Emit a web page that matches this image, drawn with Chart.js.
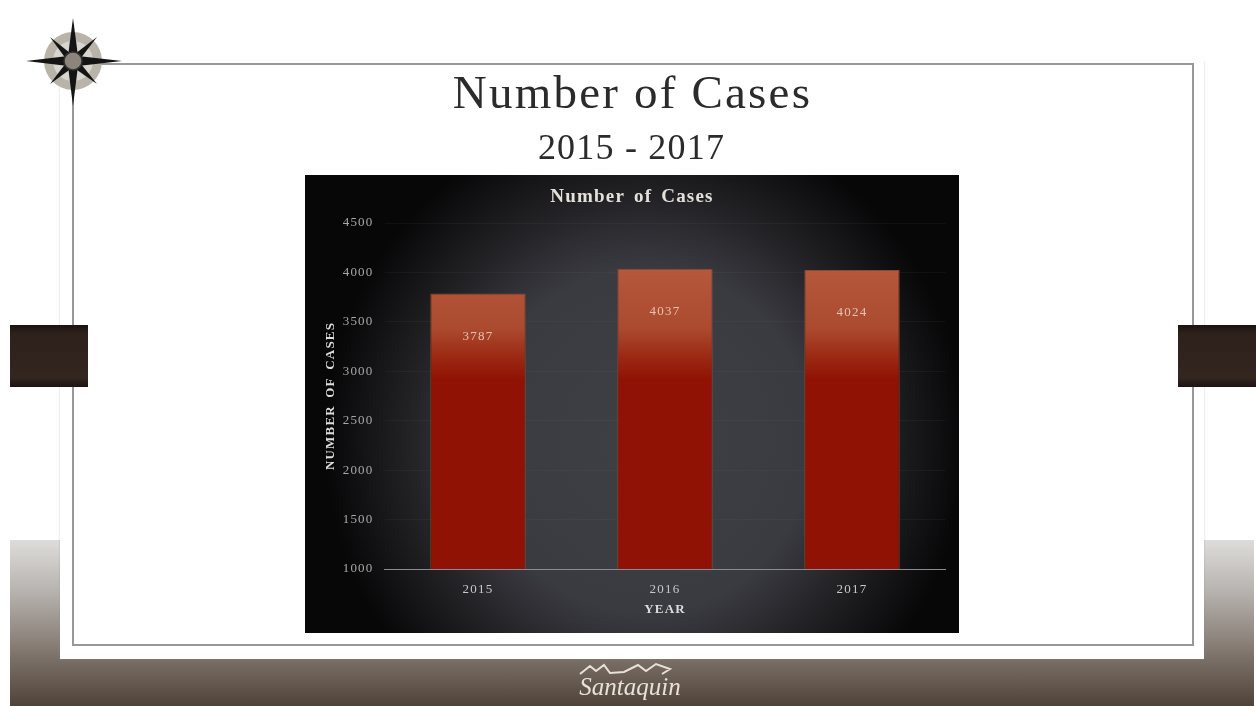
<!DOCTYPE html>
<html><head><meta charset="utf-8">
<style>
html,body{margin:0;padding:0;width:1256px;height:706px;overflow:hidden;background:#fff}
.a{position:absolute}
#band{left:10px;top:540px;width:1244px;height:166px;background:linear-gradient(#dedcda 0%,#b8b4b0 30%,#8a8078 62%,#7a6f66 72%,#4f4239 100%)}
#white{left:60px;top:60px;width:1144px;height:599px;background:#fff;box-shadow:0 1px 2px #8886}
#frame{left:72px;top:63px;width:1122px;height:583px;border:2px solid #97989a;box-sizing:border-box;filter:blur(.4px)}
#lb,#rb{top:325px;width:78px;height:62px;background:linear-gradient(#1a1310 0%,#2e211c 14%,#33261f 85%,#1d1512 100%);filter:blur(.5px)}
#lb{left:10px}#rb{left:1178px}
#t1{left:0;width:1265px;top:65px;text-align:center;font:47px "Liberation Serif",serif;color:#2b2b2b;letter-spacing:2.2px;filter:blur(.4px)}
#t2{left:0;width:1263px;top:126px;text-align:center;font:36px "Liberation Serif",serif;color:#2b2b2b;letter-spacing:1.2px;filter:blur(.4px)}
#wrap{left:305px;top:175px;width:654px;height:458px;background:radial-gradient(ellipse 320px 330px at 52% 58%,#3f3f46 0%,#3a3a41 52%,#1e1e21 78%,#070708 100%);filter:blur(.6px)}
#logo{left:560px;top:673px;width:140px;text-align:center;font:italic 25px "Liberation Serif",serif;color:#e6e2da;filter:blur(.4px)}
#peaks{left:578px;top:662px}
</style></head><body>
<div class="a" id="band"></div>
<div class="a" id="white"></div>
<div class="a" id="frame"></div>
<div class="a" id="lb"></div><div class="a" id="rb"></div>
<svg class="a" style="left:15px;top:5px;filter:blur(.4px)" width="120" height="110" viewBox="15 5 120 110">
<circle cx="73" cy="61" r="29" fill="#b9b4aa"/>
<circle cx="73" cy="61" r="20" fill="#d8d5ce"/>
<g fill="#141414">
<polygon points="73,18 78,56 68,56"/><polygon points="73,106 78,66 68,66"/>
<polygon points="26,61 68,56 68,66"/><polygon points="122,61 78,56 78,66"/>
<polygon points="50,37 75,57 69,63"/><polygon points="97,37 77,63 71,57"/>
<polygon points="50,84 69,59 76,65"/><polygon points="97,84 70,65 77,59"/>
</g>
<circle cx="73" cy="61" r="9" fill="#8d857b" stroke="#333" stroke-width="1.5"/>
</svg>
<div class="a" id="t1">Number of Cases</div>
<div class="a" id="t2">2015 - 2017</div>
<div class="a" id="wrap"><canvas id="c" width="654" height="458"></canvas></div>
<svg class="a" id="peaks" width="100" height="14"><polyline points="2,12 12,4 18,9 26,3 32,11 46,10 60,3 68,9 78,2 92,7 84,12" fill="none" stroke="#e6e2da" stroke-width="2"/></svg>
<div class="a" id="logo">Santaquin</div>
<script src="https://cdn.jsdelivr.net/npm/chart.js@4"></script>
<script>
const years = ["2015","2016","2017"];
const cases = [3787,4037,4024];
const yTicks = [1000,1500,2000,2500,3000,3500,4000,4500];
const serif = '"Liberation Serif",serif';
const spacing = {
  id:'spacing',
  beforeDraw(chart){ chart.ctx.letterSpacing='1.2px'; chart.ctx.wordSpacing='3px'; }
};
const valueLabels = {
  id:'valueLabels',
  afterDatasetsDraw(chart){
    const {ctx,scales:{x,y}} = chart;
    ctx.save();
    ctx.font = '13px '+serif;
    ctx.fillStyle = '#e6c4b4';
    ctx.textAlign = 'center';
    ctx.textBaseline = 'middle';
    cases.forEach((v,i)=>{ctx.fillText(String(v),x.getPixelForValue(i),y.getPixelForValue(v)+43);});
    ctx.restore();
  }
};
new Chart(document.getElementById('c'),{
  type:'bar',
  data:{labels:years,datasets:[{
    data:cases,
    barPercentage:0.51,categoryPercentage:1,
    borderWidth:1,borderColor:'#8a4a30',
    backgroundColor(ctx){
      const a = ctx.chart.chartArea;
      if(!a) return '#9a1505';
      const ys = ctx.chart.scales.y;
      const g = ctx.chart.ctx.createLinearGradient(0,ys.getPixelForValue(4037),0,a.bottom);
      g.addColorStop(0,'#b5583c');
      g.addColorStop(0.2,'#ab4a2e');
      g.addColorStop(0.29,'#9c2a14');
      g.addColorStop(0.37,'#8f1204');
      g.addColorStop(1,'#8f1204');
      return g;
    }
  }]},
  plugins:[spacing,valueLabels],
  options:{
    responsive:false,animation:false,
    plugins:{
      legend:{display:false},tooltip:{enabled:false},
      title:{display:true,text:'Number of Cases',color:'#e4e0da',
        font:{family:serif,size:19,weight:'bold'},padding:{top:11,bottom:14.2}}
    },
    scales:{
      x:{
        grid:{display:false},
        border:{color:'#8b8b93',width:1},
        ticks:{color:'#c8c8c8',font:{family:serif,size:13},padding:5},
        title:{display:true,text:'YEAR',color:'#dcdcdc',font:{family:serif,size:13,weight:'bold'},padding:{top:3,bottom:16}},
        afterFit(s){s.height=64;}
      },
      y:{
        min:1000,max:4500,
        afterBuildTicks(s){s.ticks=yTicks.map(value=>({value}));},
        grid:{color:'rgba(120,120,120,0.09)',drawTicks:false},
        border:{display:false},
        ticks:{color:'#a8a8a8',font:{family:serif,size:13},padding:11,callback:v=>String(v)},
        title:{display:true,text:'NUMBER OF CASES',color:'#dcdcdc',font:{family:serif,size:13,weight:'bold'},padding:{top:18,bottom:0}},
        afterFit(s){s.width=79.5;}
      },
      yRight:{
        position:'right',
        grid:{display:false},border:{display:false},
        ticks:{display:false},
        afterFit(s){s.width=13.5;}
      }
    }
  }
});
</script>
</body></html>
